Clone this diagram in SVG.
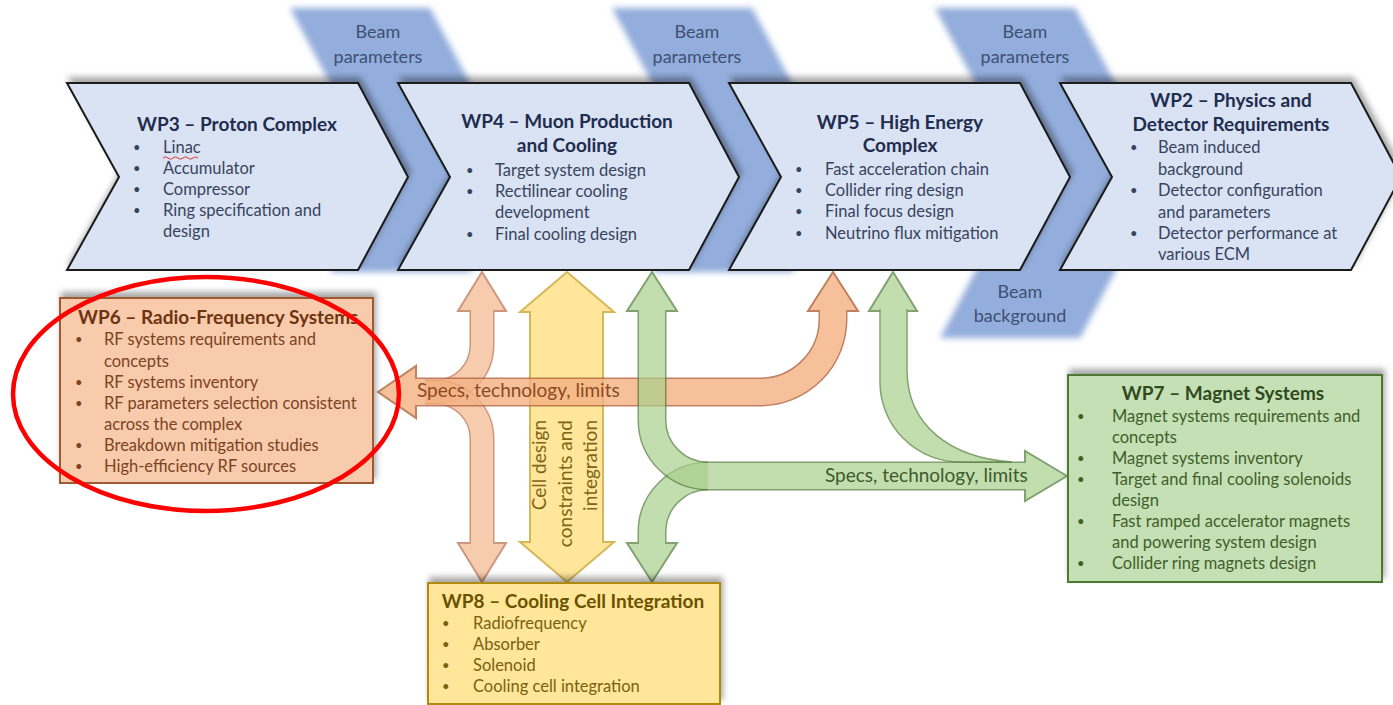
<svg xmlns="http://www.w3.org/2000/svg" width="1393" height="705" viewBox="0 0 1393 705">
  <defs>
    <filter id="soft" x="-20%" y="-10%" width="140%" height="120%">
      <feGaussianBlur stdDeviation="3"/>
    </filter>
    <filter id="lift" x="-5%" y="-15%" width="112%" height="130%">
      <feDropShadow dx="2" dy="-5" stdDeviation="3" flood-color="#000" flood-opacity="0.35"/>
    </filter>
  </defs>
  <style>
    text { font-family: Lato, "Noto Sans", "Liberation Sans", sans-serif; }
    .chev { fill: #dae3f3; stroke: #1a1a1a; stroke-width: 2; }
    .band { fill: #93addc; }
    .bandtxt { font-size: 18px; fill: #3e5072; text-anchor: middle; }
    .title { font-size: 19px; font-weight: bold; }
    .body { font-size: 16.5px; }
    .dot { font-size: 13px; }
    .blue-t { fill: #1f2d50; }
    .blue-b { fill: #38445f; }
    .or-t { fill: #6e3410; }
    .or-b { fill: #7c4322; }
    .gr-t { fill: #2e4a1e; }
    .gr-b { fill: #3f5f2b; }
    .ye-t { fill: #6b5200; }
    .ye-b { fill: #7a6010; }
    .mid { text-anchor: middle; }
    .o-line { fill: none; stroke: #b0623a; }
    .o-fill { fill: none; stroke: #f4b183; }
    .o-head { fill: #f4b183; stroke: #b0623a; stroke-width: 2; stroke-linejoin: miter; }
    .g-line { fill: none; stroke: #4f7a35; }
    .g-fill { fill: none; stroke: #a9d18e; }
    .g-head { fill: #a9d18e; stroke: #4f7a35; stroke-width: 2; stroke-linejoin: miter; }
    .lbl { font-size: 19px; }
    .vlbl { font-size: 19px; fill: #806515; text-anchor: end; }
  </style>

  <!-- flow bands behind the chevrons -->
  <g id="bands" filter="url(#soft)">
    <polygon class="band" points="290,8 430,8 520,177 470,272 330,272 380,177"/>
    <polygon class="band" points="612,8 752,8 842,177 792,272 652,272 702,177"/>
    <polygon class="band" points="935,8 1075,8 1165,177 1080,338 940,338 1025,177"/>
  </g>
  <g id="band-labels">
    <text class="bandtxt" x="378" y="38">Beam</text>
    <text class="bandtxt" x="378" y="63">parameters</text>
    <text class="bandtxt" x="697" y="38">Beam</text>
    <text class="bandtxt" x="697" y="63">parameters</text>
    <text class="bandtxt" x="1025" y="38">Beam</text>
    <text class="bandtxt" x="1025" y="63">parameters</text>
    <text class="bandtxt" x="1020" y="298">Beam</text>
    <text class="bandtxt" x="1020" y="322">background</text>
  </g>

  <!-- work-package chevrons -->
  <g id="wp3">
    <path class="chev" filter="url(#lift)" d="M67,83 H358 L408,177 L358,270 H67 L119,177 Z"/>
    <text class="title blue-t mid" x="237" y="131">WP3 – Proton Complex</text>
    <text class="body blue-b">
      <tspan class="dot" x="133" y="152">•</tspan><tspan x="163" y="153">Linac</tspan>
      <tspan class="dot" x="133" y="173">•</tspan><tspan x="163" y="174">Accumulator</tspan>
      <tspan class="dot" x="133" y="194">•</tspan><tspan x="163" y="195">Compressor</tspan>
      <tspan class="dot" x="133" y="215">•</tspan><tspan x="163" y="216">Ring specification and</tspan>
      <tspan x="163" y="237">design</tspan>
    </text>
    <path d="M163,158 q2.5,-2.4 5,0 t5,0 t5,0 t5,0 t5,0 t5,0 t5,0" fill="none" stroke="#e03030" stroke-width="1"/>
  </g>

  <g id="wp4">
    <path class="chev" filter="url(#lift)" d="M398,83 H689 L739,177 L689,270 H398 L450,177 Z"/>
    <text class="title blue-t mid" x="567" y="128">WP4 – Muon Production</text>
    <text class="title blue-t mid" x="567" y="152">and Cooling</text>
    <text class="body blue-b">
      <tspan class="dot" x="466" y="175">•</tspan><tspan x="495" y="176">Target system design</tspan>
      <tspan class="dot" x="466" y="196">•</tspan><tspan x="495" y="197">Rectilinear cooling</tspan>
      <tspan x="495" y="218">development</tspan>
      <tspan class="dot" x="466" y="239">•</tspan><tspan x="495" y="240">Final cooling design</tspan>
    </text>
  </g>

  <g id="wp5">
    <path class="chev" filter="url(#lift)" d="M729,83 H1020 L1070,177 L1020,270 H729 L781,177 Z"/>
    <text class="title blue-t mid" x="900" y="129">WP5 – High Energy</text>
    <text class="title blue-t mid" x="900" y="152">Complex</text>
    <text class="body blue-b">
      <tspan class="dot" x="795" y="174">•</tspan><tspan x="825" y="175">Fast acceleration chain</tspan>
      <tspan class="dot" x="795" y="195">•</tspan><tspan x="825" y="196">Collider ring design</tspan>
      <tspan class="dot" x="795" y="216">•</tspan><tspan x="825" y="217">Final focus design</tspan>
      <tspan class="dot" x="795" y="238">•</tspan><tspan x="825" y="239">Neutrino flux mitigation</tspan>
    </text>
  </g>

  <g id="wp2">
    <path class="chev" filter="url(#lift)" d="M1060,83 H1351 L1401,177 L1351,270 H1060 L1112,177 Z"/>
    <text class="title blue-t mid" x="1231" y="107">WP2 – Physics and</text>
    <text class="title blue-t mid" x="1231" y="131">Detector Requirements</text>
    <text class="body blue-b">
      <tspan class="dot" x="1130" y="152">•</tspan><tspan x="1158" y="153">Beam induced</tspan>
      <tspan x="1158" y="175">background</tspan>
      <tspan class="dot" x="1130" y="195">•</tspan><tspan x="1158" y="196">Detector configuration</tspan>
      <tspan x="1158" y="218">and parameters</tspan>
      <tspan class="dot" x="1130" y="238">•</tspan><tspan x="1158" y="239">Detector performance at</tspan>
      <tspan x="1158" y="260">various ECM</tspan>
    </text>
  </g>

  <!-- connectors -->
  <g id="connectors">
    <!-- WP4 <-> WP8 cell design link -->
    <g id="link-cell" opacity="0.65">
      <polygon points="567,272 614,312 603,312 603,542 614,542 567,582 520,542 530,542 530,312 520,312" fill="#ffd966" stroke="#bf9000" stroke-width="2"/>
    </g>
    <text class="vlbl" transform="rotate(-90 546 420)" x="546" y="420">Cell design</text>
    <text class="vlbl" transform="rotate(-90 572 420)" x="572" y="420">constraints and</text>
    <text class="vlbl" transform="rotate(-90 597 420)" x="597" y="420">integration</text>

    <!-- RF specs: WP4 / WP8 branches -->
    <g id="rf-wp4" opacity="0.65">
      <path class="o-line" stroke-width="25" d="M482,309 V345 A47,47 0 0 1 435,392 H425"/>
      <polygon class="o-head" points="482,272 506,311 458,311"/>
      <path class="o-fill" stroke-width="22" d="M482,309 V345 A47,47 0 0 1 435,392 H425"/>
    </g>
    <g id="rf-wp8" opacity="0.65">
      <path class="o-line" stroke-width="25" d="M425,392 H435 A47,47 0 0 1 482,439 V545"/>
      <polygon class="o-head" points="482,582 506,543 458,543"/>
      <path class="o-fill" stroke-width="22" d="M425,392 H435 A47,47 0 0 1 482,439 V545"/>
    </g>
    <!-- RF specs: WP5 <-> WP6 -->
    <g id="rf-wp5" opacity="0.8">
      <path class="o-line" stroke-width="29" d="M414,392 H760 A73,73 0 0 0 833,319 V309"/>
      <polygon class="o-head" points="833,272 858,311 808,311"/>
      <polygon class="o-head" points="378,392 416,366 416,418"/>
      <path class="o-fill" stroke-width="26" d="M413,392 H760 A73,73 0 0 0 833,319 V309"/>
    </g>
    <text class="lbl" fill="#8a4a26" x="417" y="397">Specs, technology, limits</text>

    <!-- magnet specs -->
    <g id="mag-wp8" opacity="0.7">
      <path class="g-line" stroke-width="29" d="M652,545 V532 A56,56 0 0 1 708,476"/>
      <polygon class="g-head" points="652,582 677,543 627,543"/>
      <path class="g-fill" stroke-width="26" d="M652,545 V532 A56,56 0 0 1 708,476"/>
    </g>
    <g id="mag-wp4" opacity="0.7">
      <path class="g-line" stroke-width="29" d="M652,309 V420 A56,56 0 0 0 708,476 H1027"/>
      <polygon class="g-head" points="652,272 677,311 627,311"/>
      <polygon class="g-head" points="1067,476 1025,451 1025,501"/>
      <path class="g-fill" stroke-width="26" d="M652,309 V420 A56,56 0 0 0 708,476 H1027"/>
    </g>
    <g id="mag-wp5" opacity="0.7">
      <polygon class="g-head" points="893,272 917,311 869,311"/>
      <path fill="#a9d18e" d="M880,309 V382 A80,80 0 0 0 960,462 H1012 C950,458 907,425 907,370 V309 Z"/>
      <path fill="none" stroke="#4f7a35" stroke-width="1.5" d="M880,309 V382 A80,80 0 0 0 960,462 H1012 C950,458 907,425 907,370 V309"/>
    </g>
    <text class="lbl" fill="#3d5a2a" x="825" y="482">Specs, technology, limits</text>
  </g>

  <!-- support work packages -->
  <g id="wp6">
    <rect x="60" y="298" width="313" height="185" fill="#f8cbad" stroke="#a05a32" stroke-width="2" filter="url(#lift)"/>
    <text class="title or-t" x="78" y="324">WP6 – Radio-Frequency Systems</text>
    <text class="body or-b">
      <tspan class="dot" x="75" y="344">•</tspan><tspan x="104" y="345">RF systems requirements and</tspan>
      <tspan x="104" y="367">concepts</tspan>
      <tspan class="dot" x="75" y="387">•</tspan><tspan x="104" y="388">RF systems inventory</tspan>
      <tspan class="dot" x="75" y="408">•</tspan><tspan x="104" y="409">RF parameters selection consistent</tspan>
      <tspan x="104" y="430">across the complex</tspan>
      <tspan class="dot" x="75" y="450">•</tspan><tspan x="104" y="451">Breakdown mitigation studies</tspan>
      <tspan class="dot" x="75" y="471">•</tspan><tspan x="104" y="472">High-efficiency RF sources</tspan>
    </text>
  </g>

  <g id="wp7">
    <rect x="1068" y="375" width="314" height="207" fill="#c5e0b4" stroke="#4e7a33" stroke-width="2" filter="url(#lift)"/>
    <text class="title gr-t mid" x="1223" y="400">WP7 – Magnet Systems</text>
    <text class="body gr-b">
      <tspan class="dot" x="1077" y="421">•</tspan><tspan x="1112" y="422">Magnet systems requirements and</tspan>
      <tspan x="1112" y="443">concepts</tspan>
      <tspan class="dot" x="1077" y="463">•</tspan><tspan x="1112" y="464">Magnet systems inventory</tspan>
      <tspan class="dot" x="1077" y="484">•</tspan><tspan x="1112" y="485">Target and final cooling solenoids</tspan>
      <tspan x="1112" y="506">design</tspan>
      <tspan class="dot" x="1077" y="526">•</tspan><tspan x="1112" y="527">Fast ramped accelerator magnets</tspan>
      <tspan x="1112" y="548">and powering system design</tspan>
      <tspan class="dot" x="1077" y="568">•</tspan><tspan x="1112" y="569">Collider ring magnets design</tspan>
    </text>
  </g>

  <g id="wp8">
    <rect x="428" y="583" width="292" height="121" fill="#ffe699" stroke="#b08a10" stroke-width="2" filter="url(#lift)"/>
    <text class="title ye-t mid" x="573" y="608">WP8 – Cooling Cell Integration</text>
    <text class="body ye-b">
      <tspan class="dot" x="442" y="628">•</tspan><tspan x="473" y="629">Radiofrequency</tspan>
      <tspan class="dot" x="442" y="649">•</tspan><tspan x="473" y="650">Absorber</tspan>
      <tspan class="dot" x="442" y="670">•</tspan><tspan x="473" y="671">Solenoid</tspan>
      <tspan class="dot" x="442" y="691">•</tspan><tspan x="473" y="692">Cooling cell integration</tspan>
    </text>
  </g>

  <!-- highlight ring -->
  <ellipse id="highlight" cx="206" cy="394" rx="193" ry="117" fill="none" stroke="#ff0000" stroke-width="4.5"/>
</svg>
